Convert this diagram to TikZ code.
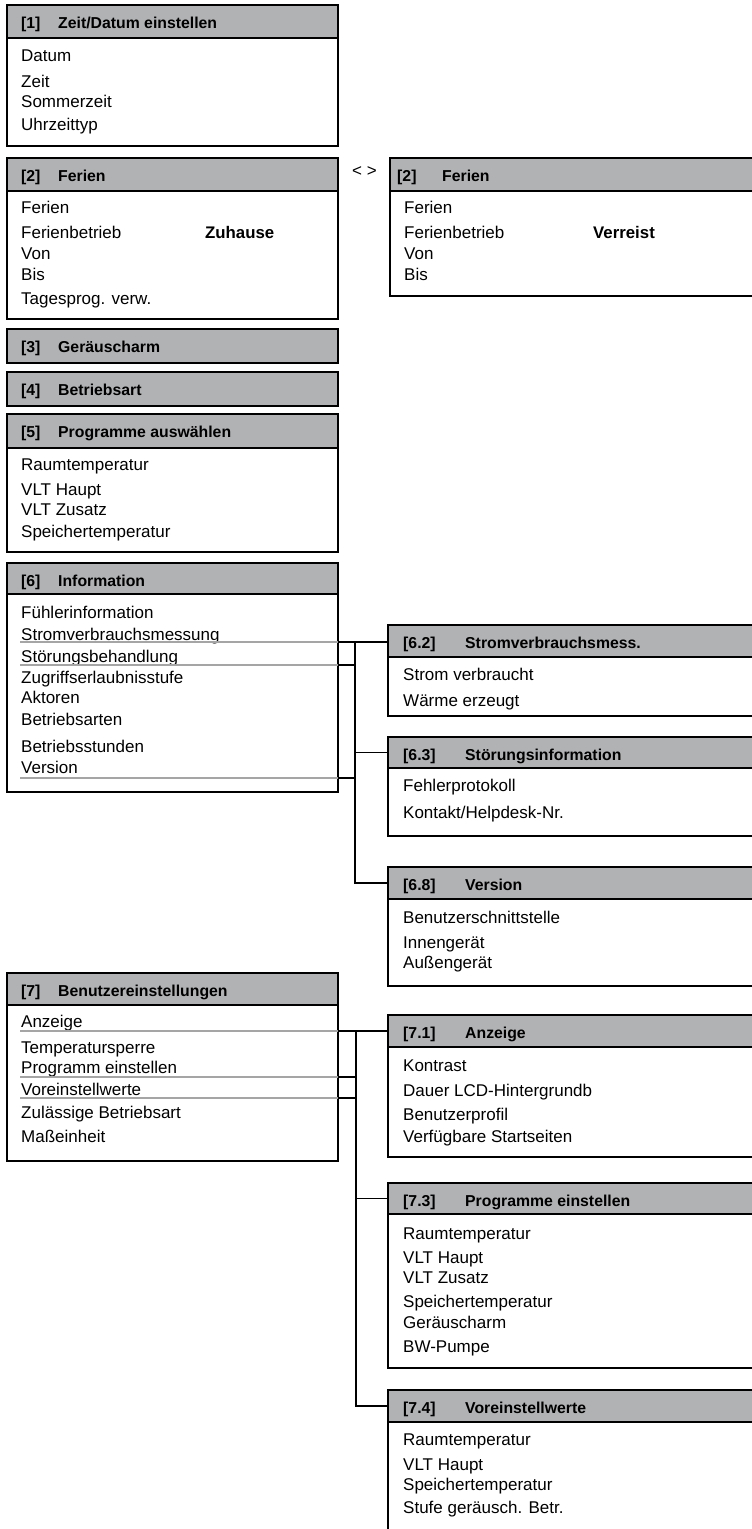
\documentclass[tikz,border=0pt]{standalone}
\usepackage{fontspec}
\setmainfont{Liberation Sans}
\definecolor{hdrgray}{RGB}{177,178,180}
\definecolor{lingray}{RGB}{165,165,165}
\tikzset{
  hdr/.style={rectangle, draw=black, fill=hdrgray, line width=2pt, inner sep=0pt, outer sep=0pt},
  bodybox/.style={rectangle, draw=black, fill=white, line width=2pt, inner sep=0pt, outer sep=0pt},
  htext/.style={font=\fontsize{15.8}{17}\selectfont\bfseries, inner sep=0pt, anchor=base west},
  item/.style={font=\fontsize{17}{19}\selectfont, inner sep=0pt, anchor=base west},
  bolditem/.style={font=\fontsize{16.8}{19}\selectfont\bfseries, inner sep=0pt, anchor=base west},
  conn/.style={line width=1.8pt, draw=black},
  under/.style={line width=1.2pt, draw=lingray},
}
% #1 name, #2 x, #3 top, #4 bottom, #5 width, #6 number offset, #7 title offset, #8 number, #9 title
\newcommand\menuhead[9]{%
  \node[hdr, minimum width=#5, minimum height=#4-#3, anchor=north west] (#1) at (#2,#3) {};
  \node[htext] (#1-n) at (#2+#6,#3+23) {#8};
  \node[htext] (#1-t) at (#2+#7,#3+23) {#9};}
% #1 name, #2 x, #3 top, #4 bottom, #5 width
\newcommand\menubody[5]{%
  \node[bodybox, minimum width=#5, minimum height=#4-#3, anchor=north west] (#1) at (#2,#3) {};}
\begin{document}
\begin{tikzpicture}[x=1pt,y=-1pt]
\useasboundingbox (0,0) rectangle (752,1529);
\clip (0,0) rectangle (752,1529);

% [1]
\menubody{b1}{7}{38}{146}{331}
\menuhead{h1}{7}{5}{38}{331}{14}{51}{[1]}{Zeit/Datum einstellen}
\node[item] (i1a) at (21,61) {Datum};
\node[item] (i1b) at (21,87) {Zeit};
\node[item] (i1c) at (21,107) {Sommerzeit};
\node[item] (i1d) at (21,130) {Uhrzeittyp};

% [2] left
\menubody{b2}{7}{191}{319}{331}
\menuhead{h2}{7}{158}{191}{331}{14}{51}{[2]}{Ferien}
\node[item] (i2a) at (21,213) {Ferien};
\node[item] (i2b) at (21,238) {Ferienbetrieb};
\node[bolditem] (i2z) at (205,238) {Zuhause};
\node[item] (i2c) at (21,259) {Von};
\node[item] (i2d) at (21,280) {Bis};
\node[item] (i2e) at (21,304) {Tagesprog. verw.};

% < >
\node[item] (sw) at (352,176) {< >};

% [2] right
\menubody{b2r}{390}{191}{296}{370}
\menuhead{h2r}{390}{158}{191}{370}{7}{52}{[2]}{Ferien}
\node[item] (j2a) at (404,213) {Ferien};
\node[item] (j2b) at (404,238) {Ferienbetrieb};
\node[bolditem] (j2z) at (593,238) {Verreist};
\node[item] (j2c) at (404,259) {Von};
\node[item] (j2d) at (404,280) {Bis};

% [3], [4]
\menuhead{h3}{7}{329}{363}{331}{14}{51}{[3]}{Geräuscharm}
\menuhead{h4}{7}{372}{406}{331}{14}{51}{[4]}{Betriebsart}

% [5]
\menubody{b5}{7}{448}{552}{331}
\menuhead{h5}{7}{414}{448}{331}{14}{51}{[5]}{Programme auswählen}
\node[item] (i5a) at (21,470) {Raumtemperatur};
\node[item] (i5b) at (21,495) {VLT Haupt};
\node[item] (i5c) at (21,515) {VLT Zusatz};
\node[item] (i5d) at (21,537) {Speichertemperatur};

% [6]
\menubody{b6}{7}{594}{792}{331}
\menuhead{h6}{7}{563}{594}{331}{14}{51}{[6]}{Information}
\node[item] (i6a) at (21,618) {Fühlerinformation};
\node[item] (i6b) at (21,640) {Stromverbrauchsmessung};
\node[item] (i6c) at (21,662) {Störungsbehandlung};
\node[item] (i6d) at (21,683) {Zugriffserlaubnisstufe};
\node[item] (i6e) at (21,703) {Aktoren};
\node[item] (i6f) at (21,725) {Betriebsarten};
\node[item] (i6g) at (21,752) {Betriebsstunden};
\node[item] (i6h) at (21,773) {Version};

% [6.2]
\menubody{b62}{388}{657}{716}{372}
\menuhead{h62}{388}{625}{657}{372}{15}{77}{[6.2]}{Stromverbrauchsmess.}
\node[item] (i62a) at (403,680) {Strom verbraucht};
\node[item] (i62b) at (403,706) {Wärme erzeugt};

% [6.3]
\menubody{b63}{388}{768}{836}{372}
\menuhead{h63}{388}{737}{768}{372}{15}{77}{[6.3]}{Störungsinformation}
\node[item] (i63a) at (403,791) {Fehlerprotokoll};
\node[item] (i63b) at (403,818) {Kontakt/Helpdesk-Nr.};

% [6.8]
\menubody{b68}{388}{899}{986}{372}
\menuhead{h68}{388}{867}{899}{372}{15}{77}{[6.8]}{Version}
\node[item] (i68a) at (403,923) {Benutzerschnittstelle};
\node[item] (i68b) at (403,948) {Innengerät};
\node[item] (i68c) at (403,968) {Außengerät};

% [7]
\menubody{b7}{7}{1005}{1161}{331}
\menuhead{h7}{7}{973}{1005}{331}{14}{51}{[7]}{Benutzereinstellungen}
\node[item] (i7a) at (21,1027) {Anzeige};
\node[item] (i7b) at (21,1053) {Temperatursperre};
\node[item] (i7c) at (21,1073) {Programm einstellen};
\node[item] (i7d) at (21,1095) {Voreinstellwerte};
\node[item] (i7e) at (21,1118) {Zulässige Betriebsart};
\node[item] (i7f) at (21,1142) {Maßeinheit};

% [7.1]
\menubody{b71}{388}{1047}{1157}{372}
\menuhead{h71}{388}{1015}{1047}{372}{15}{77}{[7.1]}{Anzeige}
\node[item] (i71a) at (403,1071) {Kontrast};
\node[item] (i71b) at (403,1096) {Dauer LCD-Hintergrundb};
\node[item] (i71c) at (403,1120) {Benutzerprofil};
\node[item] (i71d) at (403,1142) {Verfügbare Startseiten};

% [7.3]
\menubody{b73}{388}{1214}{1368}{372}
\menuhead{h73}{388}{1183}{1214}{372}{15}{77}{[7.3]}{Programme einstellen}
\node[item] (i73a) at (403,1239) {Raumtemperatur};
\node[item] (i73b) at (403,1263) {VLT Haupt};
\node[item] (i73c) at (403,1283) {VLT Zusatz};
\node[item] (i73d) at (403,1307) {Speichertemperatur};
\node[item] (i73e) at (403,1328) {Geräuscharm};
\node[item] (i73f) at (403,1352) {BW-Pumpe};

% [7.4]
\menubody{b74}{388}{1422}{1560}{372}
\menuhead{h74}{388}{1390}{1422}{372}{15}{77}{[7.4]}{Voreinstellwerte}
\node[item] (i74a) at (403,1445) {Raumtemperatur};
\node[item] (i74b) at (403,1470) {VLT Haupt};
\node[item] (i74c) at (403,1490) {Speichertemperatur};
\node[item] (i74d) at (403,1513) {Stufe geräusch. Betr.};

% connectors of [6]
\coordinate (u62) at (20,642);
\coordinate (u6s) at (20,665);
\coordinate (u6v) at (20,778);
\coordinate (t6) at (355,642);
\draw[under] (u62) -- (u62 -| b6.east);
\draw[under] (u6s) -- (u6s -| b6.east);
\draw[under] (u6v) -- (u6v -| b6.east);
\draw[conn] (u62 -| b6.east) -- (u62 -| h62.west);
\draw[conn] (u6s -| b6.east) -- (u6s -| t6);
\draw[conn] (u6v -| b6.east) -- (u6v -| t6);
\draw[conn] (t6) |- (h68.west);
\draw[conn] (t6 |- h63.west) -- (h63.west);

% connectors of [7]
\coordinate (u71) at (20,1031);
\coordinate (u73) at (20,1077);
\coordinate (u74) at (20,1098);
\coordinate (t7) at (356,1031);
\draw[under] (u71) -- (u71 -| b7.east);
\draw[under] (u73) -- (u73 -| b7.east);
\draw[under] (u74) -- (u74 -| b7.east);
\draw[conn] (u71 -| b7.east) -- (u71 -| h71.west);
\draw[conn] (u73 -| b7.east) -- (u73 -| t7);
\draw[conn] (u74 -| b7.east) -- (u74 -| t7);
\draw[conn] (t7) |- (h74.west);
\draw[conn] (t7 |- h73.west) -- (h73.west);
\end{tikzpicture}
\end{document}
